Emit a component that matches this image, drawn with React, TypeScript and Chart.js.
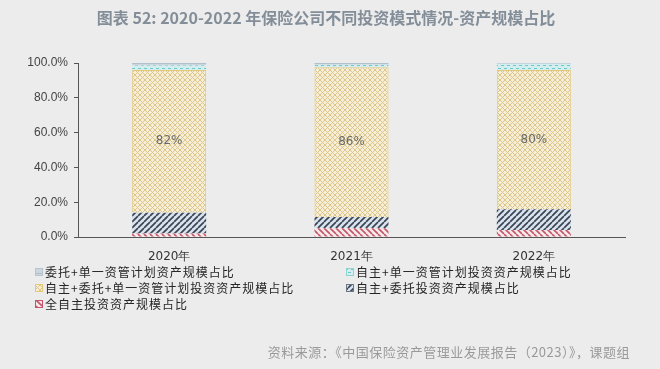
import React, { useEffect, useRef } from "react";
import { Chart, registerables } from "chart.js";

Chart.register(...registerables);

const categories = ["2020年", "2021年", "2022年"];
const fullSelf = [2, 5, 4];
const selfEntrust = [12, 6.5, 12];
const selfEntrustSingle = [82, 86, 80];
const selfSingle = [2.5, 1.5, 3.5];
const entrustSingle = [1.5, 1, 0.5];
const yTicks = [0, 20, 40, 60, 80, 100];

const seriesNames = [
  "全自主投资资产规模占比",
  "自主+委托投资资产规模占比",
  "自主+委托+单一资管计划投资资产规模占比",
  "自主+单一资管计划投资资产规模占比",
  "委托+单一资管计划资产规模占比",
];

const titleText = "图表 52: 2020-2022 年保险公司不同投资模式情况-资产规模占比";
const sourceText = "资料来源：《中国保险资产管理业发展报告（2023）》，课题组";

function makePattern(kind: string): CanvasPattern | string {
  const c = document.createElement("canvas");
  const s = kind === "cross" ? 5 : 6;
  c.width = s;
  c.height = s;
  const g = c.getContext("2d")!;
  if (kind === "red") {
    g.fillStyle = "#f6e9ea";
    g.fillRect(0, 0, s, s);
    g.strokeStyle = "#c4556a";
    g.lineWidth = 1.6;
    g.beginPath();
    g.moveTo(0, 0); g.lineTo(s, s);
    g.moveTo(-s, 0); g.lineTo(0, s);
    g.moveTo(s, 0); g.lineTo(2 * s, s);
    g.stroke();
  } else if (kind === "navy") {
    g.fillStyle = "#d9e3ed";
    g.fillRect(0, 0, s, s);
    g.strokeStyle = "#3b4454";
    g.lineWidth = 1.7;
    g.beginPath();
    g.moveTo(0, s); g.lineTo(s, 0);
    g.moveTo(-s, s); g.lineTo(0, 0);
    g.moveTo(s, s); g.lineTo(2 * s, 0);
    g.stroke();
  } else if (kind === "cross") {
    g.fillStyle = "#f6eed6";
    g.fillRect(0, 0, s, s);
    g.strokeStyle = "#dcc68c";
    g.lineWidth = 1;
    g.beginPath();
    g.moveTo(0, 0); g.lineTo(s, s);
    g.moveTo(0, s); g.lineTo(s, 0);
    g.stroke();
  } else if (kind === "cyan") {
    g.fillStyle = "#d4eef0";
    g.fillRect(0, 0, s, s);
    g.fillStyle = "#6ccac8";
    g.fillRect(0, 2, 3, 1);
    g.fillRect(3, 5, 3, 1);
  } else {
    g.fillStyle = "#cbd6df";
    g.fillRect(0, 0, s, s);
    g.fillStyle = "#b2c0cc";
    g.fillRect(0, 3, s, 1);
  }
  const ctx = document.createElement("canvas").getContext("2d")!;
  return ctx.createPattern(c, "repeat") || "#ccc";
}

export default function App() {
  const ref = useRef<HTMLCanvasElement | null>(null);

  useEffect(() => {
    document.body.style.margin = "0";
    const canvas = ref.current!;
    const patterns = [
      makePattern("red"),
      makePattern("navy"),
      makePattern("cross"),
      makePattern("cyan"),
      makePattern("gray"),
    ];
    const borders = ["#c4556a", "#6b7585", "#e3c87a", "#8fd3d3", "#b8c4ce"];
    const values = [fullSelf, selfEntrust, selfEntrustSingle, selfSingle, entrustSingle];

    const extras = {
      id: "extras",
      afterDatasetsDraw(chart: any) {
        const ctx = chart.ctx;
        const meta = chart.getDatasetMeta(2);
        ctx.save();
        ctx.fillStyle = "#6a6a6a";
        ctx.font = "12px 'DejaVu Sans'";
        ctx.textAlign = "center";
        ctx.textBaseline = "middle";
        meta.data.forEach((bar: any, i: number) => {
          const y = (bar.y + bar.base) / 2;
          ctx.fillText(Math.round(selfEntrustSingle[i]) + "%", bar.x, y);
        });
        ctx.restore();
      },
      afterDraw(chart: any) {
        const ctx = chart.ctx;
        ctx.save();
        // title
        ctx.fillStyle = "#838e99";
        ctx.font = "bold 16px 'Noto Sans CJK SC'";
        ctx.textAlign = "center";
        ctx.textBaseline = "middle";
        ctx.fillText(titleText, 326, 18);
        // legend
        const order = [4, 3, 2, 1, 0];
        ctx.font = "12px 'Noto Sans CJK SC'";
        (ctx as any).letterSpacing = "1px";
        ctx.textAlign = "left";
        order.forEach((di, k) => {
          const col = k % 2;
          const row = Math.floor(k / 2);
          const x = col === 0 ? 35 : 346;
          const y = 272 + row * 16;
          ctx.fillStyle = patterns[di] as any;
          ctx.fillRect(x, y - 4, 8, 8);
          ctx.strokeStyle = borders[di];
          ctx.lineWidth = 1;
          ctx.strokeRect(x + 0.5, y - 3.5, 7, 7);
          ctx.fillStyle = "#262626";
          ctx.fillText(seriesNames[di], x + 10, y);
        });
        // source
        (ctx as any).letterSpacing = "0.5px";
        ctx.fillStyle = "#9a9a9a";
        ctx.font = "13px 'Noto Sans CJK SC'";
        ctx.textAlign = "right";
        ctx.fillText(sourceText, 630, 352);
        (ctx as any).letterSpacing = "0px";
        ctx.restore();
      },
    };

    const chart = new Chart(canvas, {
      type: "bar",
      data: {
        labels: categories,
        datasets: values.map((v, i) => ({
          label: seriesNames[i],
          data: v,
          backgroundColor: patterns[i] as any,
          borderColor: borders[i],
          borderWidth: i === 2 ? 1 : 0,
          barPercentage: 0.406,
          categoryPercentage: 1,
        })),
      },
      options: {
        responsive: false,
        animation: false,
        layout: { padding: { left: 20, right: 35, top: 63, bottom: 102 } },
        plugins: {
          legend: { display: false },
          title: { display: false },
          tooltip: { enabled: false },
        },
        scales: {
          x: {
            stacked: true,
            grid: { display: false },
            border: { display: true, color: "#555", width: 1 },
            ticks: {
              padding: 5,
              color: "#333",
              font: { family: "'DejaVu Sans'", size: 12 },
            },
            afterFit: (s: any) => {
              s.height = 30;
            },
          },
          y: {
            stacked: true,
            min: 0,
            max: 100,
            afterBuildTicks: (s: any) => {
              s.ticks = yTicks.map((v) => ({ value: v }));
            },
            grid: {
              display: true,
              drawOnChartArea: false,
              drawTicks: true,
              tickLength: 4,
              color: "#555",
            },
            border: { display: true, color: "#555", width: 1 },
            ticks: {
              padding: 6,
              color: "#444",
              font: { family: "'Liberation Sans'", size: 12 },
              callback: (v: any) => Number(v).toFixed(1) + "%",
            },
            afterFit: (s: any) => {
              s.width = 58;
            },
          },
        },
      },
      plugins: [extras],
    });
    return () => chart.destroy();
  }, []);

  return (
    <div style={{ width: 660, height: 369, background: "#ececec" }}>
      <canvas ref={ref} width={660} height={369} style={{ display: "block" }} />
    </div>
  );
}
